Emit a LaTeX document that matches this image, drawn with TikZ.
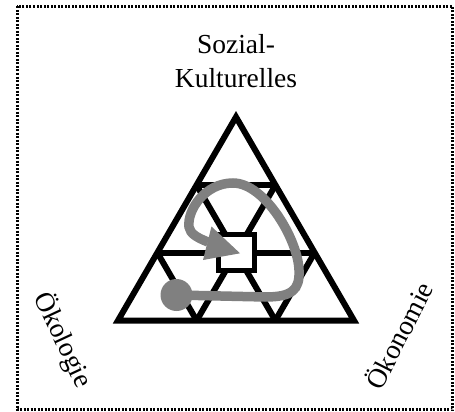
\documentclass[tikz,border=0pt]{standalone}
\usepackage{fontspec}
\setmainfont{Liberation Serif}
\begin{document}
\begin{tikzpicture}[x=1pt,y=-1pt,line join=miter,
  frame/.style={line width=3pt,dash pattern=on 2pt off 1.5pt},
  gridline/.style={line width=6pt},
  flow/.style={draw=black!50,line width=9.5pt},
  lbl/.style={font=\fontsize{27.5}{32}\selectfont,inner sep=0pt}]
\useasboundingbox (0,0) rectangle (455,412);
\draw[frame] (17,6.5) rectangle (452.5,409.5);
% grid points
\coordinate (A) at (236,117);
\coordinate (L) at (118,320.5);
\coordinate (R) at (354,320.5);
\coordinate (P10) at (196.67,185.33);
\coordinate (P11) at (275.33,185.33);
\coordinate (P20) at (157.33,252.67);
\coordinate (P21) at (236,252.67);
\coordinate (P22) at (314.67,252.67);
\coordinate (B1) at (196.67,320.5);
\coordinate (B2) at (275.33,320.5);
\draw[gridline] (A) -- (L) -- (R) -- cycle;
\draw[gridline] (P10) -- (P11);
\draw[gridline] (P20) -- (P22);
\draw[gridline] (P10) -- (B2);
\draw[gridline] (P11) -- (B1);
\draw[gridline] (P20) -- (B1);
\draw[gridline] (P22) -- (B2);
\node[draw,fill=white,line width=5pt,minimum size=36pt,inner sep=0pt] (sq) at (P21) {};
% flow
\node[circle,fill=black!50,minimum size=32pt,inner sep=0pt] (start) at (176.5,295) {};
\coordinate (ab) at (208,242);
\coordinate (tip) at (240,253.3);
\draw[flow] (start.center) -- (265,297) .. controls (292,297) and (300,290) .. (299,270)
  .. controls (298,240) and (265,183) .. (233,183)
  .. controls (205,183) and (187,210) .. (189,227)
  .. controls (190,234) and (198,238) .. (ab);
\fill[black!50] (tip) -- (211.5,226.5) -- (203,260) -- cycle;
% labels
\node[lbl,anchor=base] (t1) at (236,54) {Sozial-};
\node[lbl,anchor=base] (t2) at (236,88) {Kulturelles};
\node[lbl,rotate=-65] (oek) at (63,340) {Ökologie};
\node[lbl,rotate=63] (okon) at (398,335) {Ökonomie};
\end{tikzpicture}
\end{document}
